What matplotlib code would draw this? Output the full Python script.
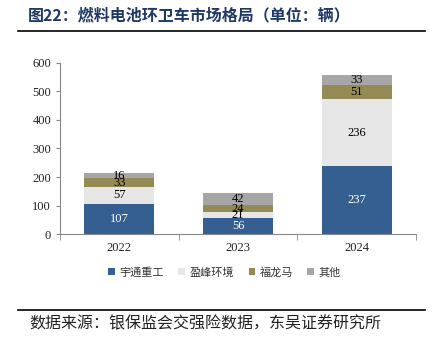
import numpy as np
import matplotlib
matplotlib.use('Agg')
import matplotlib.pyplot as plt
from matplotlib.lines import Line2D

plt.rcParams['font.family'] = ['Liberation Serif', 'Noto Sans CJK SC']

# data
years = ['2022', '2023', '2024']
yutong = [107, 56, 237]
yingfeng = [57, 21, 236]
fulongma = [33, 24, 51]
others = [16, 42, 33]

series_names = ['宇通重工', '盈峰环境', '福龙马', '其他']
series_vals = [yutong, yingfeng, fulongma, others]
colors = ['#365F91', '#E6E6E6', '#948A54', '#A6A6A6']
label_colors = ['white', 'black', 'black', 'black']

fig = plt.figure(figsize=(4.32, 3.51), dpi=100)
ax = fig.add_axes([0.139, 0.333, 0.824, 0.488])

x = np.arange(len(years))
bottom = np.zeros(len(years))
for name, vals, c, lc in zip(series_names, series_vals, colors, label_colors):
    vals = np.array(vals)
    ax.bar(x, vals, bottom=bottom, width=0.59, color=c, label=name)
    for xi, b, v in zip(x, bottom, vals):
        ax.text(xi, b + v / 2, str(v), ha='center', va='center',
                fontsize=9, color=lc, family='Liberation Serif')
    bottom += vals

ax.set_xlim(-0.5, 2.5)
ax.set_ylim(0, 600)
ax.set_yticks(range(0, 601, 100))
ax.set_xticks(x)
ax.set_xticklabels(years)
ax.set_xticks([-0.5, 0.5, 1.5, 2.5], minor=True)
ax.tick_params(axis='x', which='major', length=0, pad=6)
ax.tick_params(axis='x', which='minor', length=4, color='#888888')
ax.tick_params(axis='y', length=3, color='#888888')
ax.tick_params(labelsize=9, labelcolor='#222222')
for s in ['top', 'right']:
    ax.spines[s].set_visible(False)
for s in ['left', 'bottom']:
    ax.spines[s].set_color('#888888')
    ax.spines[s].set_linewidth(0.8)

leg = fig.legend(loc='center', bbox_to_anchor=(0.52, 0.225), ncol=4, frameon=False,
                 prop={'family': 'Noto Sans CJK SC', 'size': 8},
                 handlelength=0.6, handleheight=0.6, handletextpad=0.4, columnspacing=1.3)
for t in leg.get_texts():
    t.set_color('#333333')

# header and footer
fig.text(0.065, 0.955, '图22：燃料电池环卫车市场格局（单位：辆）', ha='left', va='center',
         fontsize=11.5, fontweight='bold', color='#1F3864', family='Noto Sans CJK SC')
fig.add_artist(Line2D([0.042, 0.984], [0.912, 0.912], color='black', linewidth=1.2))
fig.add_artist(Line2D([0.042, 0.984], [0.117, 0.117], color='black', linewidth=1.2))
fig.text(0.068, 0.078, '数据来源：银保监会交强险数据，东吴证券研究所', ha='left', va='center',
         fontsize=11.5, color='#222222', family='Noto Sans CJK SC')

fig.savefig('out.png', dpi=100)
